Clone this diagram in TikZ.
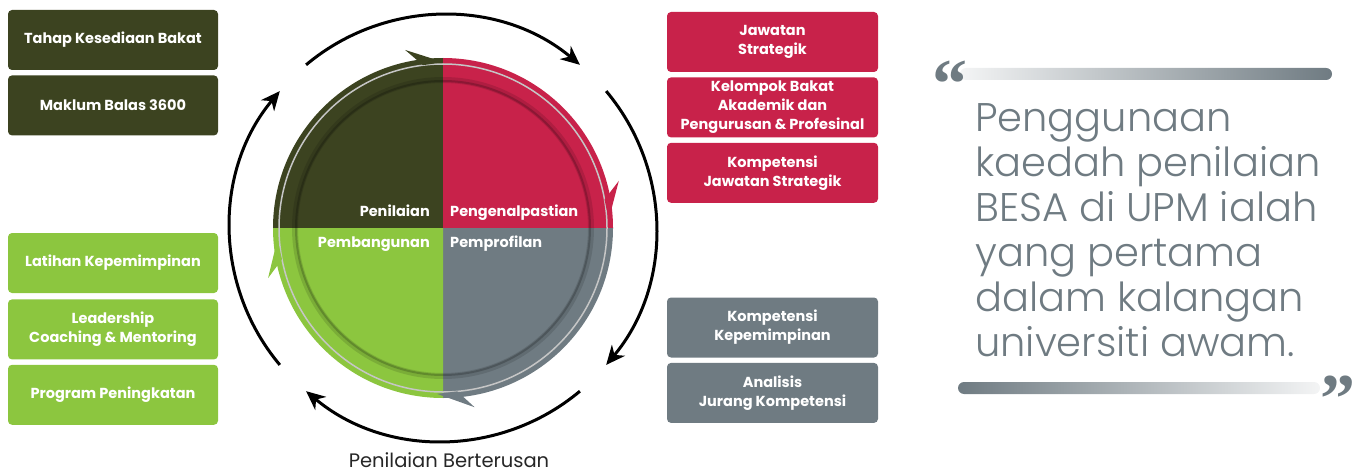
\documentclass[tikz,border=0pt]{standalone}
\usepackage{fontspec}
\setmainfont{Poppins}
\newfontfamily\lightfont{Poppins Light}
\newfontfamily\markfont{Liberation Serif}
\usetikzlibrary{positioning, arrows.meta, calc}

\definecolor{olive}{RGB}{60,67,32}
\definecolor{crimson}{RGB}{200,34,74}
\definecolor{leaf}{RGB}{140,198,63}
\definecolor{slate}{RGB}{111,123,130}

\begin{document}
\begin{tikzpicture}[
  x=1pt, y=1pt,
  node distance=5pt,
  box/.style={rounded corners=4pt, align=center, text=white, inner sep=0pt,
    minimum width=210pt, minimum height=60pt,
    font=\bfseries\fontsize{14.5}{19}\selectfont},
  qlabel/.style={text=white, inner sep=0pt, font=\bfseries\fontsize{14.5}{18}\selectfont},
  cyc/.style={-{Stealth[length=19pt, width=17pt, inset=6pt]}, line width=3pt, black},
  qmark/.style={text=slate, inner sep=0pt, font=\markfont\bfseries\fontsize{70}{70}\selectfont}
]
\useasboundingbox (0,0) rectangle (1364,472);

% --- Kotak kiri ---
\node[box, fill=olive] (tahap) at (113,432) {Tahap Kesediaan Bakat};
\node[box, fill=olive, below=of tahap] (maklum) {Maklum Balas 3600};
\node[box, fill=leaf] (latihan) at (113,209) {Latihan Kepemimpinan};
\node[box, fill=leaf, below=6pt of latihan] (coaching) {Leadership\\ Coaching \& Mentoring};
\node[box, fill=leaf, below=of coaching] (program) {Program Peningkatan};

% --- Kotak kanan ---
\node[box, fill=crimson, minimum width=211pt] (jawatan) at (772.5,430) {Jawatan\\ Strategik};
\node[box, fill=crimson, minimum width=211pt, below=of jawatan] (kelompok) {Kelompok Bakat\\ Akademik dan\\ Pengurusan \& Profesinal};
\node[box, fill=crimson, minimum width=211pt, below=of kelompok] (kjs) {Kompetensi\\ Jawatan Strategik};
\node[box, fill=slate, minimum width=211pt] (kkep) at (772.5,144.5) {Kompetensi\\ Kepemimpinan};
\node[box, fill=slate, minimum width=211pt, below=of kkep] (analisis) {Analisis\\ Jurang Kompetensi};

% --- Bulatan ---
\coordinate (ctr) at (443,244);
\fill[olive] (ctr) -- ++(180:170) arc (180:90:170) -- cycle;
\fill[crimson] (ctr) -- ++(90:170) arc (90:0:170) -- cycle;
\fill[slate] (ctr) -- ++(0:170) arc (0:-90:170) -- cycle;
\fill[leaf] (ctr) -- ++(-90:170) arc (-90:-180:170) -- cycle;
\draw[black, opacity=.12, line width=6pt] (ctr) circle (148);
\draw[black, opacity=.2, line width=2pt] (ctr) circle (147);
\draw[gray!45, line width=1.5pt] (ctr) circle (164);

% --- Mata anak panah cincin ---
\foreach \b/\c in {90/olive, 3/crimson, -92/slate, 184/leaf}
  \fill[\c] ($(ctr)+(\b+12:182)$) -- ($(ctr)+(\b:166)$) -- ($(ctr)+(\b+7:164)$) -- cycle;

% --- Label sukuan ---
\node[qlabel, anchor=base east] (penilaian) at (430,256) {Penilaian};
\node[qlabel, anchor=base west] (kenal) at (450,256) {Pengenalpastian};
\node[qlabel, anchor=base east] (bangun) at (430,225) {Pembangunan};
\node[qlabel, anchor=base west] (profil) at (450,225) {Pemprofilan};

% --- Kitaran luar ---
\draw[cyc] (ctr) ++(130:213) arc (130:50:213);
\draw[cyc] (ctr) ++(40:213) arc (40:-40:213);
\draw[cyc] (ctr) ++(-50:213) arc (-50:-130:213);
\draw[cyc] (ctr) ++(220:213) arc (220:140:213);
\node[font=\fontsize{19.5}{22}\selectfont, text=black!85, anchor=base] (berterusan) at (449,5) {Penilaian Berterusan};

% --- Petikan ---
\shade[left color=slate!8, right color=slate, rounded corners=6pt] (960,392) rectangle (1332,404);
\shade[left color=slate, right color=slate!8, rounded corners=6pt] (958,78) rectangle (1320,90);
\node[qmark, anchor=north] (buka) at (950,411) {“};
\node[qmark, anchor=north] (tutup) at (1338,96) {”};
\node[text=slate, anchor=north west, inner sep=0pt, align=left,
  font=\lightfont\fontsize{40}{45}\selectfont] (petikan) at (975,369)
  {Penggunaan\\ kaedah penilaian\\ BESA di UPM ialah\\ yang pertama\\ dalam kalangan\\ universiti awam.};

\end{tikzpicture}
\end{document}
